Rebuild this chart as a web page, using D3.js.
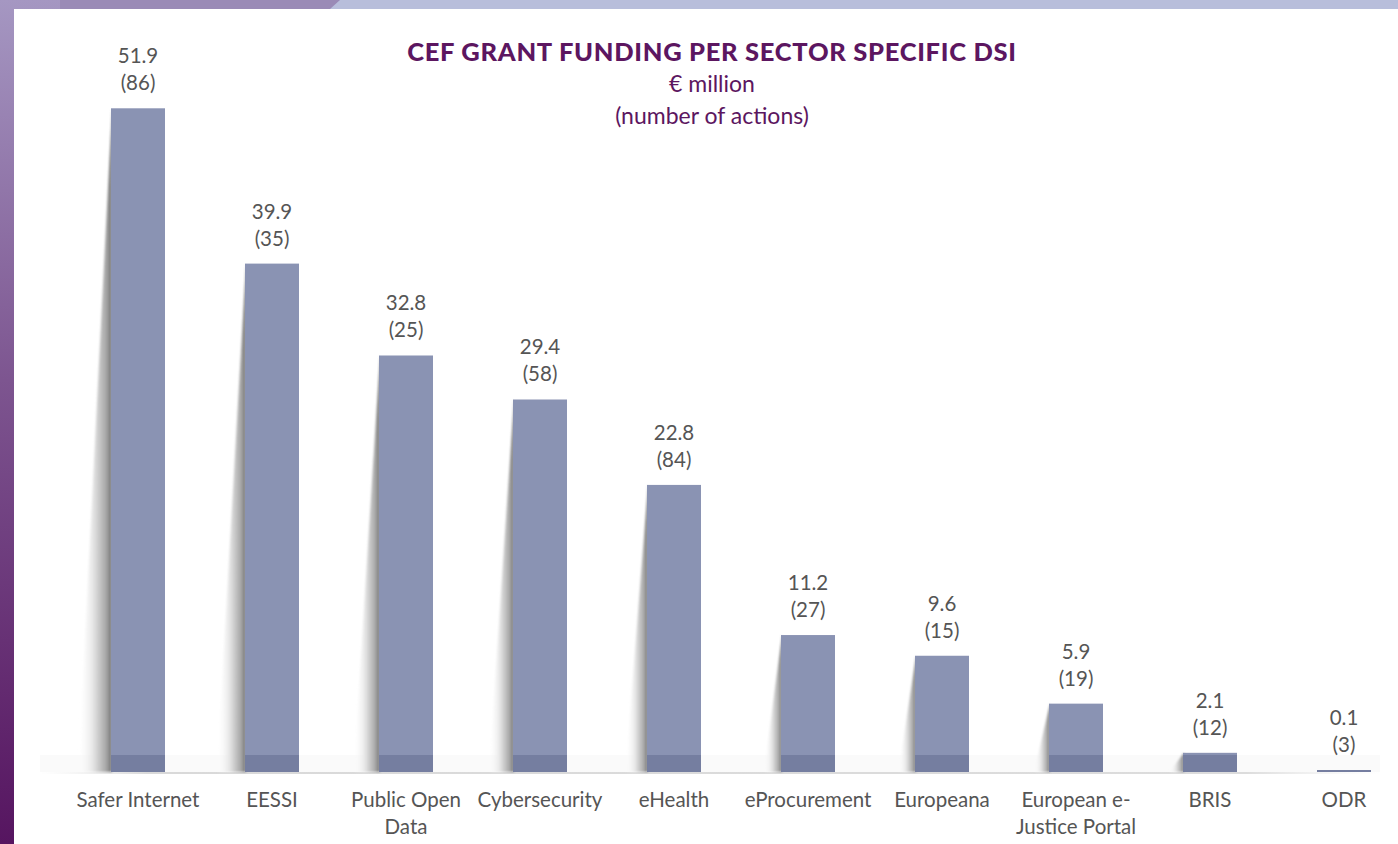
<!DOCTYPE html>
<html lang="en">
<head>
<meta charset="UTF-8">
<title>CEF grant funding per sector specific DSI</title>
<script src="https://d3js.org/d3.v7.min.js"></script>
<style>
  body { margin: 0; overflow: hidden; }
  svg { display: block; }
</style>
</head>
<body>
<svg width="1398" height="844"></svg>
<script>

    // data
    const sectors = ["Safer Internet", "EESSI", "Public Open Data", "Cybersecurity", "eHealth",
        "eProcurement", "Europeana", "European e-Justice Portal", "BRIS", "ODR"];
    const funding = [51.9, 39.9, 32.8, 29.4, 22.8, 11.2, 9.6, 5.9, 2.1, 0.1];
    const actions = [86, 35, 25, 58, 84, 27, 15, 19, 12, 3];
    // how the axis labels break into lines
    const sectorLines = [["Safer Internet"], ["EESSI"], ["Public Open", "Data"], ["Cybersecurity"], ["eHealth"],
        ["eProcurement"], ["Europeana"], ["European e-", "Justice Portal"], ["BRIS"], ["ODR"]];

    const W = 1398, H = 844;
    const base = 772;
    const font = "Lato, 'Open Sans', sans-serif";

    let svg = d3.select("svg");
    let defs = svg.append("defs");

    // page background: purple on the left, lavender on top
    let bg = defs.append("linearGradient").attr("id", "bg")
        .attr("x1", 0).attr("y1", 0).attr("x2", 0).attr("y2", 1);
    bg.append("stop").attr("offset", 0).attr("stop-color", "#a597c2");
    bg.append("stop").attr("offset", 0.45).attr("stop-color", "#7d5590");
    bg.append("stop").attr("offset", 1).attr("stop-color", "#561560");
    svg.append("rect").attr("width", W).attr("height", H).attr("fill", "url(#bg)");
    svg.append("rect").attr("x", 250).attr("width", W - 250).attr("height", 12).attr("fill", "#b8bedb");
    svg.append("path").attr("d", "M60,0 L340,0 L330,9 L60,9 Z").attr("fill", "#9a8ab6");
    svg.append("rect").attr("x", 14).attr("y", 9).attr("width", W - 14).attr("height", H - 9).attr("fill", "#ffffff");

    // shadow gradient behind each bar
    let sh = defs.append("linearGradient").attr("id", "shadow")
        .attr("x1", 0).attr("y1", 0).attr("x2", 1).attr("y2", 0);
    sh.append("stop").attr("offset", 0).attr("stop-color", "#ffffff").attr("stop-opacity", 0);
    sh.append("stop").attr("offset", 0.45).attr("stop-color", "#e4e4e4");
    sh.append("stop").attr("offset", 0.82).attr("stop-color", "#a8a8a8");
    sh.append("stop").attr("offset", 1).attr("stop-color", "#747474");
    defs.append("filter").attr("id", "soft").append("feGaussianBlur").attr("stdDeviation", 0.8);

    let floor = defs.append("linearGradient").attr("id", "floor")
        .attr("x1", 0).attr("y1", 0).attr("x2", 1).attr("y2", 0);
    floor.append("stop").attr("offset", 0).attr("stop-color", "#e6e6e6").attr("stop-opacity", 0);
    floor.append("stop").attr("offset", 0.08).attr("stop-color", "#d9d9d9");
    floor.append("stop").attr("offset", 0.9).attr("stop-color", "#dcdcdc");
    floor.append("stop").attr("offset", 1).attr("stop-color", "#ececec").attr("stop-opacity", 0);

    let x = d3.scaleBand().domain(sectors).range([71, 1411]).paddingInner(0.597).paddingOuter(0.2985);
    let y = d3.scaleLinear().domain([0, 52]).range([780, 107]);
    function barTop(i) { return Math.min(y(funding[i]), base - 2) }

    // floor band under the bars
    svg.append("rect").attr("x", 40).attr("y", 755).attr("width", 1340).attr("height", 17)
        .attr("fill", "#000").attr("opacity", 0.02);
    svg.append("rect").attr("x", 40).attr("y", base).attr("width", 1340).attr("height", 2)
        .attr("fill", "url(#floor)");

    let g = svg.append("g");
    let idx = d3.range(sectors.length);

    // slanted shadows
    g.selectAll("path.shadow").data(idx.filter(function (i) { return base - barTop(i) > 5 })).enter().append("path")
        .attr("class", "shadow")
        .attr("d", function (i) {
            let x0 = x(sectors[i]), t = barTop(i);
            let off = 13 + 0.03 * (base - t);
            return "M" + (x0 + 1) + "," + t + " L" + (x0 + 1) + "," + base + " L" + (x0 - off) + "," + base + " Z";
        })
        .attr("fill", "url(#shadow)")
        .attr("filter", "url(#soft)");

    g.selectAll("rect.bar").data(idx).enter().append("rect")
        .attr("class", "bar")
        .attr("x", function (i) { return x(sectors[i]) })
        .attr("y", function (i) { return barTop(i) })
        .attr("width", x.bandwidth())
        .attr("height", function (i) { return base - barTop(i) })
        .attr("fill", "#8a93b3");

    // darker foot of each bar
    g.selectAll("rect.foot").data(idx).enter().append("rect")
        .attr("class", "foot")
        .attr("x", function (i) { return x(sectors[i]) })
        .attr("y", function (i) { return Math.max(755, barTop(i)) })
        .attr("width", x.bandwidth())
        .attr("height", function (i) { return base - Math.max(755, barTop(i)) })
        .attr("fill", "#2c3560").attr("opacity", 0.22);

    // value labels
    let lab = g.selectAll("g.lab").data(idx).enter().append("g").attr("class", "lab")
        .attr("transform", function (i) {
            return "translate(" + (x(sectors[i]) + x.bandwidth() / 2) + "," + barTop(i) + ")";
        });
    lab.append("text").attr("y", -45).text(function (i) { return funding[i].toFixed(1) });
    lab.append("text").attr("y", -18).text(function (i) { return "(" + actions[i] + ")" });
    lab.selectAll("text").attr("text-anchor", "middle").attr("font-family", font)
        .attr("font-size", 20.5).attr("fill", "#555555");

    // category labels
    let cat = g.selectAll("text.cat").data(idx).enter().append("text").attr("class", "cat")
        .attr("x", function (i) { return x(sectors[i]) + x.bandwidth() / 2 })
        .attr("y", 807)
        .attr("text-anchor", "middle").attr("font-family", font)
        .attr("font-size", 20.5).attr("fill", "#555555");
    cat.selectAll("tspan").data(function (i) { return sectorLines[i] }).enter().append("tspan")
        .attr("x", function () { return this.parentNode.getAttribute("x") })
        .attr("dy", function (d, j) { return j === 0 ? 0 : 27 })
        .text(function (d) { return d });

    // title block
    svg.append("text").attr("x", 712).attr("y", 61).attr("text-anchor", "middle")
        .attr("font-family", font).attr("font-weight", 900).attr("font-size", 25.5)
        .attr("letter-spacing", 0.7).attr("fill", "#5c1660")
        .text("CEF GRANT FUNDING PER SECTOR SPECIFIC DSI");
    svg.append("text").attr("x", 712).attr("y", 92).attr("text-anchor", "middle")
        .attr("font-family", font).attr("font-size", 23).attr("fill", "#5c1660")
        .text("€ million");
    svg.append("text").attr("x", 712).attr("y", 124).attr("text-anchor", "middle")
        .attr("font-family", font).attr("font-size", 23).attr("fill", "#5c1660")
        .text("(number of actions)");

</script>
</body>
</html>
